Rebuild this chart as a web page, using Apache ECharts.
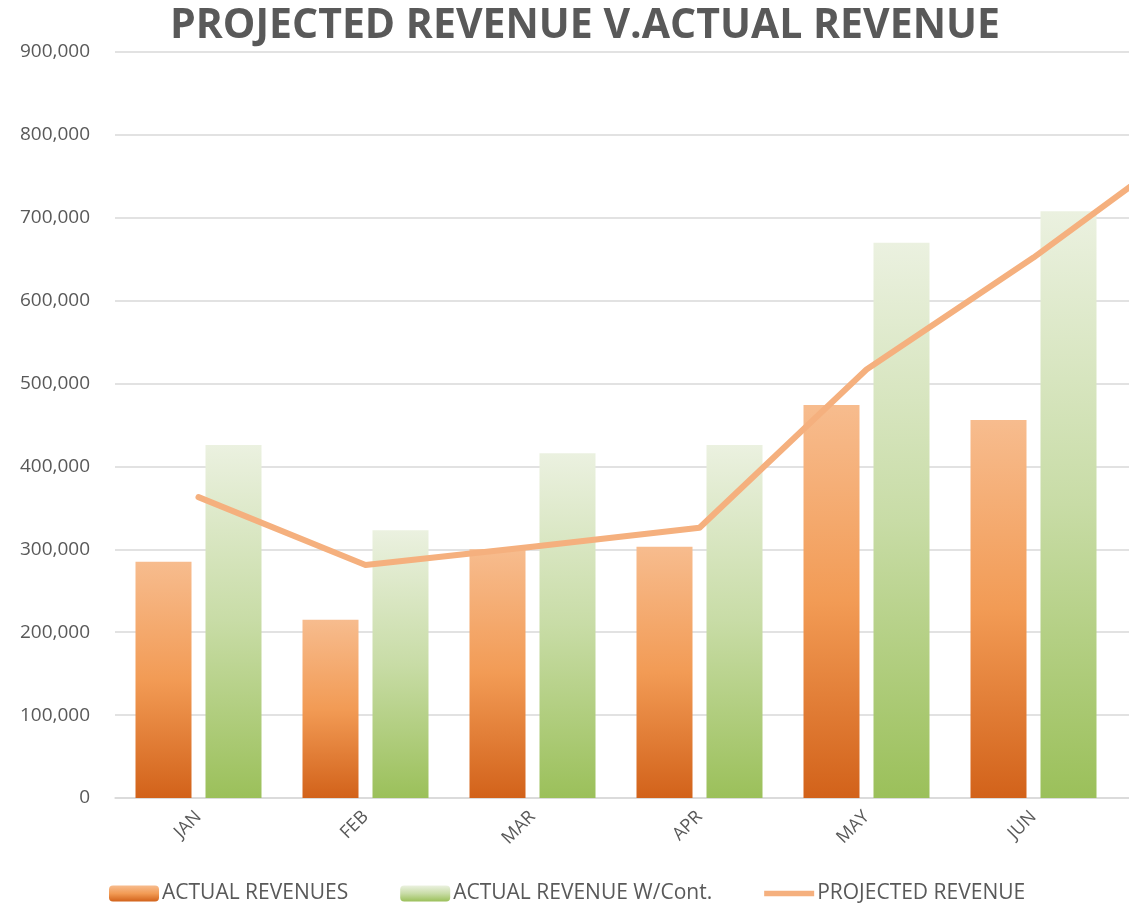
<!DOCTYPE html>
<html lang="en">
<head>
    <meta charset="UTF-8">
    <title>Projected Revenue v. Actual Revenue</title>
    <script src="https://cdn.jsdelivr.net/npm/echarts@6/dist/echarts.min.js"></script>
    <style>
        html, body { margin: 0; padding: 0; background: #ffffff; }
        #chart { width: 1129px; height: 911px; }
    </style>
</head>
<body>
    <div id="chart"></div>
    <script>
        // data (7th slot: the projected line runs off the right edge)
        const months = ['JAN', 'FEB', 'MAR', 'APR', 'MAY', 'JUN', ''];
        const actualRevenues = [285000, 215000, 300000, 303000, 474000, 456000, null];
        const actualWithCont = [426000, 323000, 416000, 426000, 670000, 708000, null];
        const projectedRevenue = [363000, 281000, 303000, 326000, 517000, 652000, 800000];
        const yTicks = { min: 0, max: 900000, interval: 100000 };

        const chart = echarts.init(document.getElementById('chart'));
        const gray = '#595959';
        const lineColor = '#F5B07E';

        const option = {
            animation: false,
            title: {
                text: 'PROJECTED REVENUE V.ACTUAL REVENUE',
                left: 580,
                textAlign: 'center',
                top: 1,
                textStyle: {
                    fontFamily: 'Open Sans',
                    fontWeight: 'bold',
                    fontSize: 41,
                    color: gray
                }
            },
            legend: {
                bottom: 2,
                left: 104,
                itemWidth: 50,
                itemHeight: 16,
                itemGap: 52,
                textStyle: { fontFamily: 'Open Sans', fontSize: 21, color: gray, padding: [0, 0, 0, -2] },
                data: [
                    { name: 'ACTUAL REVENUES' },
                    { name: 'ACTUAL REVENUE W/Cont.' },
                    { name: 'PROJECTED REVENUE', icon: 'path://M0,0 L56,0 L56,6 L0,6 Z', itemStyle: { color: lineColor } }
                ]
            },
            grid: {
                left: 115,
                width: 1169,
                top: 52,
                bottom: 113,
                containLabel: false,
                outerBoundsMode: 'none'
            },
            xAxis: {
                type: 'category',
                data: months,
                axisLine: { lineStyle: { color: '#D9D9D9', width: 1.5 } },
                axisTick: { show: false },
                axisLabel: {
                    rotate: 45,
                    color: gray,
                    fontFamily: 'Open Sans',
                    fontSize: 18,
                    margin: 16
                }
            },
            yAxis: {
                type: 'value',
                min: yTicks.min,
                max: yTicks.max,
                interval: yTicks.interval,
                axisLine: { show: false },
                axisTick: { show: false },
                splitLine: { lineStyle: { color: '#D9D9D9', width: 1.5 } },
                axisLabel: {
                    color: gray,
                    fontFamily: 'Open Sans',
                    fontSize: 19,
                    margin: 25,
                    formatter: v => v.toLocaleString('en-US')
                }
            },
            series: [
                {
                    name: 'ACTUAL REVENUES',
                    type: 'bar',
                    barWidth: 56,
                    barGap: '25%',
                    data: actualRevenues,
                    itemStyle: {
                        color: new echarts.graphic.LinearGradient(0, 0, 0, 1, [
                            { offset: 0, color: '#F7BC8E' },
                            { offset: 0.5, color: '#F29B55' },
                            { offset: 1, color: '#D2621A' }
                        ])
                    }
                },
                {
                    name: 'ACTUAL REVENUE W/Cont.',
                    type: 'bar',
                    barWidth: 56,
                    data: actualWithCont,
                    itemStyle: {
                        color: new echarts.graphic.LinearGradient(0, 0, 0, 1, [
                            { offset: 0, color: '#EBF1E0' },
                            { offset: 0.5, color: '#C8DCA6' },
                            { offset: 1, color: '#9BC05A' }
                        ])
                    }
                },
                {
                    name: 'PROJECTED REVENUE',
                    type: 'line',
                    data: projectedRevenue,
                    symbol: 'none',
                    z: 5,
                    lineStyle: { color: lineColor, width: 6, join: 'round', cap: 'round' },
                    itemStyle: { color: lineColor }
                }
            ]
        };

        chart.setOption(option);
    </script>
</body>
</html>
